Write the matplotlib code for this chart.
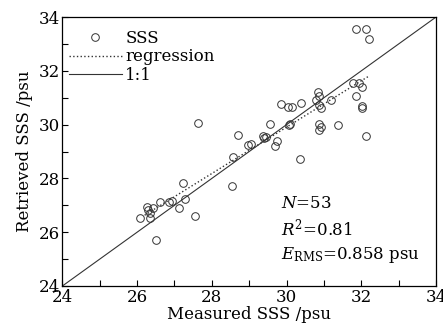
import numpy as np
import matplotlib
matplotlib.use("Agg")
import matplotlib.pyplot as plt
from matplotlib.ticker import MultipleLocator

plt.rcParams["font.family"] = "DejaVu Serif"
plt.rcParams["mathtext.fontset"] = "dejavuserif"

# measured vs retrieved SSS (psu)
measured = [31.87, 32.14, 32.20, 31.79, 31.95, 32.01, 31.87, 32.01, 32.03, 30.83,
            30.86, 30.80, 30.88, 31.18, 29.84, 30.03, 30.14, 30.38, 29.57, 30.08,
            30.86, 30.91, 30.86, 31.39, 32.14, 29.36, 29.44, 29.74, 29.68, 28.69,
            28.96, 29.04, 28.56, 30.35, 28.53, 27.62, 27.22, 26.61, 26.85, 26.93,
            27.28, 27.12, 26.26, 26.42, 26.29, 26.07, 26.34, 26.34, 27.54, 26.50,
            29.41, 30.91, 30.06]
retrieved = [33.55, 33.55, 33.18, 31.55, 31.55, 31.40, 31.06, 30.69, 30.62, 31.21,
             31.06, 30.91, 30.73, 30.91, 30.77, 30.65, 30.65, 30.80, 30.02, 30.02,
             30.02, 29.91, 29.80, 29.99, 29.58, 29.58, 29.54, 29.39, 29.20, 29.61,
             29.24, 29.28, 28.80, 28.72, 27.72, 30.06, 27.83, 27.12, 27.12, 27.16,
             27.23, 26.90, 26.94, 26.90, 26.83, 26.53, 26.71, 26.53, 26.60, 25.71,
             29.50, 30.62, 29.98]

stats_text = "$N$=53\n$R^{2}$=0.81\n$E_{\\rm RMS}$=0.858 psu"

x = np.array(measured)
y = np.array(retrieved)
k, b = np.polyfit(x, y, 1)
xr = np.array([26.2, x.max()])

fig = plt.figure(figsize=(4.43, 3.36), dpi=100)
ax = fig.add_axes([0.141, 0.149, 0.843, 0.800])

ax.plot(x, y, "o", ms=5.5, mfc="none", mec="#333333", mew=0.7, label="SSS")
ax.plot(xr, k * xr + b, ":", color="#333333", lw=1.0, label="regression")
ax.plot([24, 34], [24, 34], "-", color="#333333", lw=0.8, label="1:1")

ax.set_xlim(24, 34)
ax.set_ylim(24, 34)
ax.xaxis.set_major_locator(MultipleLocator(2))
ax.xaxis.set_minor_locator(MultipleLocator(1))
ax.yaxis.set_major_locator(MultipleLocator(2))
ax.yaxis.set_minor_locator(MultipleLocator(1))
ax.tick_params(which="both", direction="in", length=4.5, width=0.8,
               labelsize=12, pad=2, top=False, right=False)
for s in ax.spines.values():
    s.set_linewidth(0.9)

ax.set_xlabel("Measured SSS /psu", fontsize=12, labelpad=0)
ax.set_ylabel("Retrieved SSS /psu", fontsize=12, labelpad=4)

ax.legend(loc="upper left", frameon=False, fontsize=12, handlelength=3.2,
          handletextpad=0.2, labelspacing=0.1, borderaxespad=0.2,
          bbox_to_anchor=(-0.01, 0.99))

ax.text(0.585, 0.34, stats_text, transform=ax.transAxes, fontsize=12,
        va="top", ha="left", linespacing=1.35)

fig.savefig("out.png", dpi=100)
